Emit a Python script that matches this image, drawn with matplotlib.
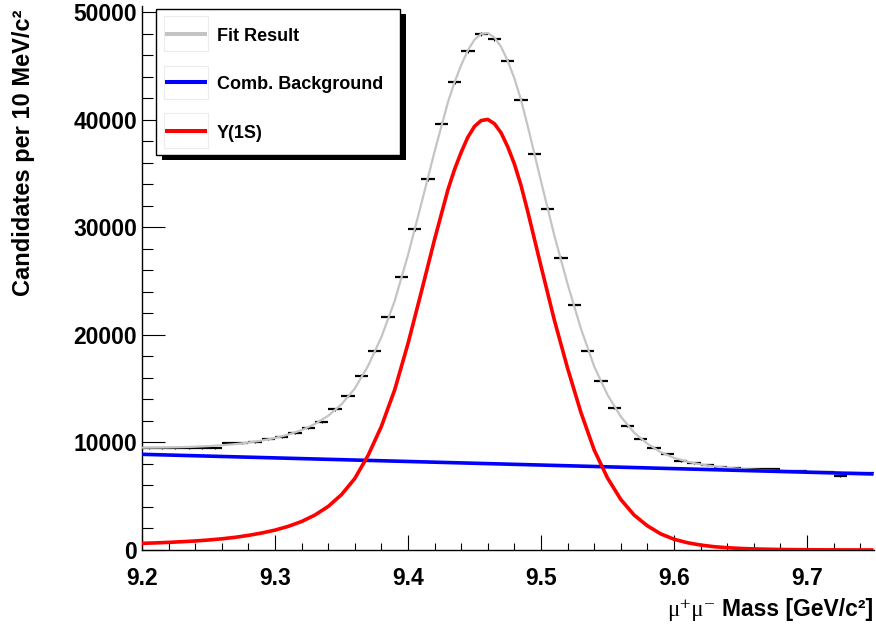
import numpy as np
import matplotlib
matplotlib.use("Agg")
import matplotlib.pyplot as plt
from matplotlib.patches import Rectangle
from matplotlib.lines import Line2D
from matplotlib.ticker import MultipleLocator, FormatStrFormatter

plt.rcParams["font.family"] = ["Liberation Sans", "DejaVu Sans"]
plt.rcParams["font.weight"] = "bold"

# ---- data: candidates per 10 MeV bin, 9.20 - 9.75 GeV ----
bin_low = 9.20
bin_width = 0.01
counts = [9460, 9488, 9460, 9488, 9516, 9516, 9925, 9925, 10074, 10297,
          10539, 10856, 11321, 11879, 13070, 14325, 16213, 18539, 21646, 25367,
          29860, 34464, 39655, 43533, 46417, 47998, 47533, 45487, 41832, 36836,
          31720, 27190, 22762, 18539, 15693, 13209, 11535, 10297, 9460, 8902,
          8279, 8065, 7907, 7749, 7628, 7535, 7488, 7507, 7349, 7302,
          7256, 7209, 6884, 7163, 7163]

# ---- fit components ----
curve_mass = [9.20, 9.21, 9.22, 9.23, 9.24, 9.25, 9.26, 9.27, 9.28, 9.29,
              9.30, 9.31, 9.32, 9.33, 9.34, 9.35, 9.36, 9.37, 9.38, 9.39,
              9.40, 9.41, 9.42, 9.43, 9.435, 9.44, 9.445, 9.45, 9.455, 9.46,
              9.465, 9.47, 9.475, 9.48, 9.485, 9.49,
              9.50, 9.51, 9.52, 9.53, 9.54, 9.55, 9.56, 9.57, 9.58, 9.59,
              9.60, 9.61, 9.62, 9.63, 9.64, 9.65, 9.66, 9.67, 9.68, 9.69,
              9.70, 9.71, 9.72, 9.73, 9.74, 9.75]
signal_1s = [620, 660, 710, 770, 840, 930, 1040, 1180, 1360, 1580,
             1850, 2200, 2650, 3250, 4050, 5150, 6650, 8800, 11500, 14900,
             19200, 24000, 28900, 33500, 35400, 37000, 38400, 39400, 39950, 40050,
             39650, 38800, 37500, 35900, 33900, 31500,
             26400, 21400, 16900, 12800, 9300, 6700, 4700, 3250, 2250, 1500,
             1000, 680, 460, 310, 210, 145, 100, 70, 48, 33,
             23, 16, 11, 8, 5, 4]
bkg_mass = [9.20, 9.75]
bkg_level = [8900, 7070]

legend_labels = ["Fit Result", "Comb. Background", "\u03a5(1S)"]
x_ticks = [9.2, 9.3, 9.4, 9.5, 9.6, 9.7]
y_ticks = [0, 10000, 20000, 30000, 40000, 50000]

# ---- derived arrays ----
counts = np.array(counts, dtype=float)
centres = bin_low + bin_width * (np.arange(len(counts)) + 0.5)
errors = np.sqrt(counts)
curve_mass = np.array(curve_mass)
signal_1s = np.array(signal_1s, dtype=float)
bkg_on_grid = np.interp(curve_mass, bkg_mass, bkg_level)
total_fit = signal_1s + bkg_on_grid

C_GRAY = "#c4c4c4"
C_BLUE = "#0000ff"
C_RED = "#ff0000"

W, H = 876, 630
fig = plt.figure(figsize=(W / 100, H / 100), dpi=100)


def fx(px):
    return px / W


def fy(py):
    return 1 - py / H


ax = fig.add_axes([fx(142), fy(550), fx(873.5) - fx(142), fy(6) - fy(550)])
ax.set_xlim(9.2, 9.75)
ax.set_ylim(0, 50600)

# data points: horizontal bin-width bars with statistical error ticks
ax.hlines(counts, centres - bin_width / 2, centres + bin_width / 2,
          colors="black", lw=1.6, zorder=3)
ax.vlines(centres, counts - errors, counts + errors, colors="black",
          lw=0.8, zorder=3)

# fit curves
ax.plot(curve_mass, total_fit, color=C_GRAY, lw=1.6, zorder=4,
        solid_joinstyle="round")
ax.plot(bkg_mass, bkg_level, color=C_BLUE, lw=2.6, zorder=5,
        solid_capstyle="butt")
ax.plot(curve_mass, signal_1s, color=C_RED, lw=2.6, zorder=6,
        solid_joinstyle="round", solid_capstyle="butt")

# axes styling
for side in ("top", "right"):
    ax.spines[side].set_visible(False)
for side in ("left", "bottom"):
    ax.spines[side].set_color("black")
    ax.spines[side].set_linewidth(1.0)

ax.set_xticks(x_ticks)
ax.set_yticks(y_ticks)
ax.xaxis.set_minor_locator(MultipleLocator(0.02))
ax.yaxis.set_minor_locator(MultipleLocator(2000))
ax.xaxis.set_major_formatter(FormatStrFormatter("%.1f"))
ax.yaxis.set_major_formatter(FormatStrFormatter("%d"))
ax.tick_params(axis="x", which="major", direction="in", length=10.8,
               width=0.8, labelsize=16.5, pad=12)
ax.tick_params(axis="x", which="minor", direction="in", length=5.0, width=0.8)
ax.tick_params(axis="y", which="major", direction="in", length=16.3,
               width=0.8, labelsize=16.5, pad=3.6)
ax.tick_params(axis="y", which="minor", direction="in", length=7.9, width=0.8)
for lab in ax.get_xticklabels() + ax.get_yticklabels():
    lab.set_fontweight("bold")

# axis titles
fig.text(fx(24), fy(10), "Candidates per 10 MeV/c\u00b2", rotation=90,
         ha="center", va="top", fontsize=17, fontweight="bold")
xt = fig.text(fx(872.7), fy(616), "Mass [GeV/c\u00b2]", ha="right",
              va="baseline", fontsize=16.5, fontweight="bold")
fig.canvas.draw()
bb = xt.get_window_extent(renderer=fig.canvas.get_renderer())
fig.text(fx(bb.x0 - 6), fy(616), "\u03bc\u207a\u03bc\u207b", ha="right",
         va="baseline", fontsize=16.5, fontweight="normal",
         family=["Liberation Serif", "DejaVu Serif"])

# legend box with drop shadow
box_x0, box_y0, box_x1, box_y1 = 156, 9.5, 399.5, 155
fig.patches.append(Rectangle((fx(box_x0 + 6), fy(box_y1 + 5)),
                             fx(box_x1 - box_x0), (box_y1 - box_y0) / H,
                             transform=fig.transFigure, facecolor="black",
                             edgecolor="none", zorder=10))
fig.patches.append(Rectangle((fx(box_x0), fy(box_y1)),
                             fx(box_x1 - box_x0), (box_y1 - box_y0) / H,
                             transform=fig.transFigure, facecolor="white",
                             edgecolor="black", lw=1.0, zorder=11))
entry_rows = [(16, 51, 33.7), (65.7, 99.3, 82), (113.3, 148.3, 131)]
entry_colors = [C_GRAY, C_BLUE, C_RED]
for (r0, r1, ly), col, lab in zip(entry_rows, entry_colors, legend_labels):
    fig.patches.append(Rectangle((fx(164), fy(r1)), fx(207.5 - 164),
                                 (r1 - r0) / H, transform=fig.transFigure,
                                 facecolor="white", edgecolor="#ececec",
                                 lw=0.8, zorder=12))
    fig.lines.append(Line2D([fx(165), fx(207)], [fy(ly), fy(ly)],
                            transform=fig.transFigure, color=col, lw=2.9,
                            solid_capstyle="butt", zorder=13))
    fig.text(fx(217), fy(ly + 7), lab, ha="left", va="baseline",
             fontsize=13, fontweight="bold", zorder=14)

fig.savefig("out.png", dpi=100)
